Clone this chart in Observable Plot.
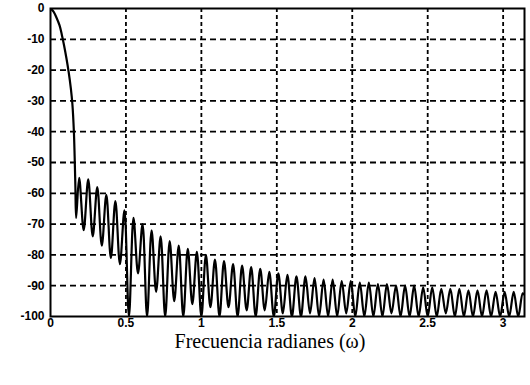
<!DOCTYPE html>
<html>
<head>
<meta charset="utf-8">
<script src="https://cdn.jsdelivr.net/npm/d3@7"></script>
<script src="https://cdn.jsdelivr.net/npm/@observablehq/plot@0.6"></script>
<style>
  html, body { margin: 0; padding: 0; background: white; width: 530px; height: 385px; overflow: hidden; }
  #wrap { position: relative; width: 530px; height: 385px; }
  #cap { position: absolute; left: 70px; width: 400px; top: 330px; text-align: center;
         font-family: "Liberation Serif", "Times New Roman", serif; font-size: 20px; color: black; }
</style>
</head>
<body>
<div id="wrap"><div id="chart"></div><div id="cap">Frecuencia radianes (ω)</div></div>
<script>
// x tick labels (radians) and y tick labels (dB)
const xTicks = [0, 0.5, 1, 1.5, 2, 2.5, 3];
const yTicks = [0, -10, -20, -30, -40, -50, -60, -70, -80, -90, -100];

// main lobe
const mainFreq = [0, 0.02, 0.04, 0.06, 0.075, 0.09, 0.105, 0.12, 0.135, 0.145, 0.155, 0.16, 0.165, 0.17];
const mainDb   = [0, -1, -3, -5.5, -8.5, -12, -16, -20.5, -26, -31, -40, -48, -58, -68];

// side-lobe peaks
const peakFreq = [0.19,0.25,0.31,0.37,0.43,0.49,0.55,0.61,0.67,0.73,0.79,0.85,0.91,0.97,1.03,1.09,1.15,1.21,1.27,1.33,1.39,1.45,1.51,1.57,1.63,1.69,1.75,1.81,1.87,1.93,1.99,2.05,2.11,2.17,2.23,2.29,2.35,2.41,2.47,2.53,2.59,2.65,2.71,2.77,2.83,2.89,2.95,3.01,3.07,3.13];
const peakDb   = [-55,-55.5,-58,-60.5,-62.5,-65.5,-68,-70,-72,-74,-75.5,-77,-78,-79,-80,-81.5,-82,-83,-83.5,-84,-84.5,-85.5,-86,-86.5,-87,-87,-87.5,-88,-88,-88.5,-88.5,-89,-89,-89.5,-89.5,-90,-90,-90,-90.5,-90.5,-91,-91,-91,-91.5,-91.5,-91.5,-92,-92,-92,-92.5];

// side-lobe nulls (as drawn, clipped at -100)
const nullFreq = [0.22,0.28,0.34,0.40,0.46,0.52,0.58,0.64,0.70,0.76,0.82,0.88,0.94,1.00,1.06,1.12,1.18,1.24,1.30,1.36,1.42,1.48,1.54,1.60,1.66,1.72,1.78,1.84,1.90,1.96,2.02,2.08,2.14,2.20,2.26,2.32,2.38,2.44,2.50,2.56,2.62,2.68,2.74,2.80,2.86,2.92,2.98,3.04,3.10];
const nullDb   = [-72,-74,-77,-81,-83,-100,-86,-100,-92,-100,-95,-100,-96,-100,-97,-100,-97,-100,-98,-100,-98,-100,-99,-100,-100,-99,-100,-100,-100,-99,-100,-100,-100,-100,-99,-100,-100,-100,-100,-100,-99,-100,-100,-100,-100,-100,-100,-100,-100];

const endFreq = [Math.PI];
const endDb = [-93];

// build the point table
const pts = [];
mainFreq.forEach((f, i) => pts.push({f, db: mainDb[i]}));
peakFreq.forEach((f, i) => pts.push({f, db: peakDb[i]}));
nullFreq.forEach((f, i) => pts.push({f, db: nullDb[i]}));
endFreq.forEach((f, i) => pts.push({f, db: endDb[i]}));
pts.sort((a, b) => a.f - b.f);

const gridX = xTicks.filter(t => t > 0);
const gridY = yTicks.filter(t => t < 0 && t > -100);

const chart = Plot.plot({
  width: 530,
  height: 332,
  marginLeft: 50,
  marginRight: 6,
  marginTop: 8,
  marginBottom: 16,
  style: { fontFamily: "'Liberation Sans', Arial, sans-serif", fontWeight: "bold", fontSize: "12px", background: "white", color: "black", overflow: "visible" },
  x: { domain: [0, Math.PI], ticks: xTicks, tickFormat: d => String(d), tickSize: 0, tickPadding: 2, label: null },
  y: { domain: [-100, 0], ticks: yTicks, tickFormat: d => String(d), tickSize: 0, tickPadding: 6, label: null },
  marks: [
    Plot.ruleY(gridY, { stroke: "black", strokeWidth: 1.8, strokeDasharray: "6,4" }),
    Plot.ruleX(gridX, { stroke: "black", strokeWidth: 1.8, strokeDasharray: "4,3" }),
    Plot.line(pts, { x: "f", y: "db", stroke: "black", strokeWidth: 2.2, curve: "catmull-rom", clip: true }),
    Plot.frame({ stroke: "black", strokeWidth: 2 })
  ]
});
document.getElementById("chart").appendChild(chart);
</script>
</body>
</html>
